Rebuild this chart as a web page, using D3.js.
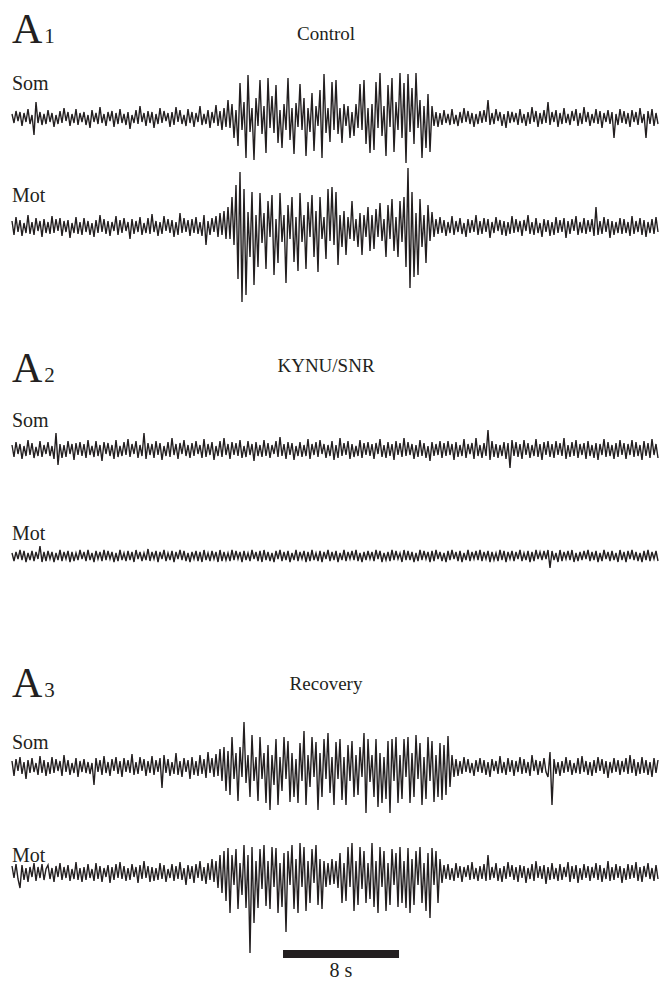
<!DOCTYPE html>
<html>
<head>
<meta charset="utf-8">
<script src="https://cdnjs.cloudflare.com/ajax/libs/d3/7.8.5/d3.min.js"></script>
<style>
  body { margin: 0; background: #fff; }
</style>
</head>
<body>
<div id="chart"></div>
<script>
// recording length (s) and scale bar
var duration = 44.55;
var barStart = 18.69, barLength = 8;

var panelLetters = ["A", "A", "A"];
var panelNumbers = ["1", "2", "3"];
var panelTitles = ["Control", "KYNU/SNR", "Recovery"];
var traceNames = ["Som", "Mot", "Som", "Mot", "Som", "Mot"];

// peak values of each trace (positive = up), 18 per row
var som1 = [4,-5,7,-3,6,-8,5,-4,9,-6,3,-17,16,-5,6,-7,4,-6,
  8,-4,5,-9,3,-6,7,-5,10,-3,6,-8,4,-5,9,-7,5,-4,
  6,-7,3,-10,8,-4,5,-6,11,-5,4,-8,6,-3,7,-9,5,-6,
  9,-5,4,-7,6,-11,3,-5,8,-6,12,-4,5,-8,7,-5,6,-10,
  4,-6,10,-5,7,-3,5,-9,6,-7,11,-4,8,-6,3,-8,9,-5,
  6,-9,5,-4,12,-7,4,-6,8,-10,6,-5,13,-8,7,-12,10,-9,
  18,-10,14,-20,8,-28,35,-12,16,-40,43,-14,10,-42,20,-8,38,-16,
  12,-35,40,-10,22,-15,33,-25,8,-30,14,-12,40,-22,10,-36,15,-9,
  34,-12,20,-38,10,-14,25,-33,12,-8,28,-40,44,-15,10,-24,36,-12,
  38,-16,10,-25,14,-8,12,-20,6,-18,14,-10,34,-12,38,-26,10,-35,
  14,-32,36,-10,45,-18,12,-38,33,-9,40,-34,16,-12,45,-20,35,-45,
  44,-14,30,-26,45,-10,18,-40,12,-30,24,-34,12,-8,6,-9,5,-7,
  8,-5,4,-7,9,-6,3,-8,6,-5,10,-4,7,-6,5,-9,4,-6,
  7,-5,8,-4,18,-7,5,-6,9,-3,6,-8,4,-10,7,-5,6,-4,
  5,-7,9,-5,4,-8,6,-6,11,-4,7,-9,5,-6,8,-5,16,-7,
  6,-4,8,-9,5,-6,10,-5,4,-7,7,-3,9,-8,5,-6,11,-4,
  6,-8,4,-5,9,-6,7,-10,5,-4,8,-6,6,-20,4,-7,9,-5,
  7,-6,5,-9,8,-4,6,-7,10,-5,4,-20,7,-6,9,-8,5,-6];

var mot1 = [6,-8,10,-5,7,-9,4,-6,12,-7,5,-8,9,-4,6,-10,8,-6,
  5,-7,11,-6,8,-4,9,-9,6,-5,7,-11,4,-6,10,-7,5,-8,
  9,-5,6,-8,4,-10,7,-6,12,-5,8,-7,6,-9,5,-4,11,-8,
  7,-6,9,-4,5,-12,8,-7,6,-5,10,-8,4,-6,9,-7,13,-5,
  6,-9,5,-7,11,-4,8,-6,7,-10,5,-8,14,-6,9,-5,7,-9,
  8,-6,10,-7,5,-9,12,-18,6,-8,9,-5,11,-10,14,-8,16,-12,
  20,-12,30,-18,42,-52,55,-75,38,-68,15,-30,35,-58,12,-40,34,-16,
  14,-42,26,-10,32,-48,8,-36,34,-15,12,-56,22,-12,30,-35,10,-44,
  34,-15,12,-42,25,-10,32,-30,16,-45,30,-12,10,-32,38,-14,40,-18,
  35,-38,12,-20,16,-28,10,-12,26,-14,8,-20,14,-28,12,-10,20,-24,
  12,-22,18,-10,24,-14,8,-30,22,-12,28,-24,10,-30,26,-15,30,-40,
  59,-61,35,-50,14,-48,28,-20,12,-36,22,-14,15,-10,8,-7,10,-6,
  7,-9,5,-6,11,-8,6,-5,9,-7,4,-10,8,-6,7,-5,12,-8,
  6,-7,9,-5,8,-11,5,-6,10,-4,7,-8,6,-9,5,-7,11,-6,
  8,-5,6,-9,7,-4,12,-7,5,-8,9,-6,4,-10,8,-5,7,-9,
  5,-8,10,-6,7,-5,9,-11,6,-7,8,-4,11,-8,5,-6,9,-7,
  7,-5,8,-9,20,-8,6,-7,10,-5,8,-11,6,-8,5,-6,9,-7,
  8,-6,5,-9,11,-7,6,-5,9,-8,7,-10,5,-6,8,-7,10,-5];

var som2 = [5,-7,8,-4,6,-9,4,-6,10,-5,7,-8,3,-6,9,-7,5,-4,
  8,-6,4,-9,17,-15,6,-8,5,-7,9,-4,6,-10,7,-5,8,-6,
  6,-8,10,-5,4,-7,9,-6,5,-11,8,-4,7,-6,5,-9,10,-7,
  4,-6,8,-5,11,-7,6,-4,9,-8,5,-6,17,-9,7,-5,6,-8,
  9,-5,7,-10,4,-6,8,-7,12,-5,6,-9,7,-4,10,-6,5,-8,
  7,-6,9,-4,5,-8,11,-7,6,-5,8,-10,4,-6,9,-7,12,-5,
  6,-9,8,-5,7,-6,10,-8,4,-7,9,-5,6,-11,8,-6,5,-7,
  10,-6,7,-8,5,-4,9,-7,13,-6,6,-9,8,-5,7,-10,4,-6,
  8,-7,5,-6,11,-9,6,-5,8,-7,10,-4,6,-8,5,-6,9,-10,
  5,-8,12,-6,7,-5,9,-9,6,-7,4,-6,10,-8,7,-5,8,-6,
  6,-9,7,-4,11,-7,5,-8,8,-6,6,-10,9,-5,7,-7,12,-6,
  8,-5,6,-9,5,-7,10,-6,7,-8,4,-11,8,-6,6,-5,9,-8,
  7,-6,9,-5,6,-10,8,-7,5,-6,11,-8,6,-4,7,-9,12,-6,
  5,-8,7,-6,20,-10,9,-7,6,-8,5,-6,8,-9,7,-18,10,-6,
  8,-7,6,-9,10,-5,7,-8,5,-6,11,-7,6,-10,8,-5,9,-7,
  6,-8,9,-5,7,-6,12,-9,5,-7,8,-6,10,-8,6,-5,7,-9,
  9,-6,5,-8,7,-10,6,-5,11,-7,8,-6,5,-9,7,-7,10,-5,
  7,-9,6,-5,10,-7,8,-6,5,-10,9,-6,7,-8,11,-5,6,-8];

var mot2 = [3,-5,4,-3,6,-4,5,-6,3,-4,5,-5,4,-3,10,-6,4,-5,
  5,-3,4,-6,3,-4,6,-5,4,-3,5,-6,4,-5,3,-4,6,-3,
  4,-5,6,-4,3,-6,5,-3,4,-5,6,-4,5,-3,4,-6,3,-5,
  6,-4,3,-5,5,-4,4,-6,6,-3,4,-5,3,-4,7,-5,4,-3,
  5,-6,4,-3,6,-5,3,-4,5,-6,4,-3,6,-4,5,-5,3,-6,
  4,-3,5,-5,4,-6,6,-4,3,-5,5,-3,4,-6,6,-5,4,-4,
  3,-5,6,-4,5,-3,4,-6,5,-4,3,-5,6,-3,4,-5,5,-6,
  6,-4,4,-5,3,-6,5,-3,6,-5,4,-4,5,-6,3,-4,6,-5,
  4,-3,5,-6,4,-5,6,-4,3,-5,5,-6,4,-3,6,-5,4,-4,
  5,-6,3,-4,6,-5,4,-3,5,-4,6,-5,3,-6,4,-4,5,-3,
  4,-5,6,-3,5,-6,3,-4,4,-5,6,-4,5,-3,3,-6,6,-4,
  5,-4,4,-6,3,-5,6,-4,5,-3,4,-6,5,-5,6,-3,4,-5,
  3,-6,5,-4,6,-3,4,-5,5,-6,3,-4,6,-5,4,-3,5,-4,
  6,-5,4,-3,5,-6,4,-4,3,-5,6,-4,5,-6,4,-3,5,-5,
  4,-3,6,-5,3,-4,5,-6,4,-5,6,-3,4,-4,5,-3,6,-12,
  5,-4,3,-6,6,-5,4,-3,5,-4,6,-6,3,-5,4,-4,5,-3,
  6,-5,4,-4,5,-6,3,-5,6,-3,4,-5,5,-4,3,-6,6,-4,
  4,-6,5,-3,6,-4,4,-5,3,-6,5,-4,6,-5,4,-3,5,-5];

var som3 = [6,-9,8,-4,10,-7,5,-12,7,-6,9,-5,4,-8,11,-6,7,-9,
  5,-7,10,-6,8,-4,6,-9,12,-5,7,-8,4,-6,9,-10,6,-5,
  8,-6,5,-7,4,-18,9,-5,7,-8,11,-6,5,-9,8,-4,10,-7,
  6,-10,9,-5,7,-6,13,-8,5,-7,10,-4,8,-9,6,-6,11,-8,
  7,-5,9,-21,12,-6,8,-9,5,-7,14,-8,6,-10,9,-5,7,-12,
  10,-8,6,-9,12,-7,8,-11,15,-6,9,-10,13,-9,18,-14,20,-24,
  16,-28,30,-12,14,-34,20,-10,45,-16,12,-30,32,-14,10,-34,30,-12,
  14,-36,22,-43,12,-18,28,-38,10,-24,30,-12,26,-35,14,-30,8,-36,
  24,-14,36,-38,12,-20,30,-10,25,-43,14,-30,28,-12,34,-26,10,-38,
  25,-12,28,-33,10,-38,22,-14,26,-30,12,-28,20,-10,34,-46,28,-15,
  12,-30,28,-40,14,-36,10,-32,26,-46,28,-14,30,-36,12,-32,28,-10,
  30,-36,14,-30,32,-12,24,-38,10,-32,30,-14,26,-35,12,-30,24,-33,
  22,-28,31,-20,12,-10,8,-9,6,-7,10,-5,8,-6,4,-9,7,-5,
  9,-6,7,-8,5,-10,8,-4,6,-7,11,-6,5,-8,9,-5,7,-9,
  6,-5,10,-7,8,-6,5,-9,12,-4,7,-8,6,-6,9,-5,-10,15,
  -38,8,-7,5,-9,6,-6,10,-5,7,-8,4,-6,9,-7,11,-5,6,
  -8,5,-9,7,-6,10,-4,8,-7,6,-11,5,-6,9,-5,7,-8,6,
  -5,9,-7,12,-6,8,-9,5,-7,10,-6,7,-8,5,-10,9,-6,7];

var mot3 = [7,-5,9,-6,-15,8,-7,5,-9,6,-4,10,-8,6,-5,9,-7,4,
  8,-6,5,-9,7,-4,10,-7,6,-5,8,-8,4,-6,11,-7,5,-9,
  6,-7,9,-5,4,-8,10,-6,7,-9,5,-4,8,-10,6,-7,9,-5,
  11,-6,7,-8,5,-7,9,-4,6,-10,8,-6,12,-5,7,-9,6,-8,
  5,-7,10,-6,8,-9,4,-5,9,-8,7,-6,11,-7,5,-12,8,-6,
  7,-10,9,-5,12,-8,6,-11,10,-7,14,-9,12,-15,18,-20,22,-28,
  25,-40,18,-12,24,-36,10,-22,28,-35,18,-80,26,-50,12,-35,24,-16,
  28,-33,12,-36,26,-14,25,-40,10,-34,20,-59,22,-12,28,-36,14,-40,
  30,-14,26,-38,12,-30,24,-10,28,-32,14,-36,12,-14,10,-12,14,-11,
  12,-15,20,-30,10,-28,26,-14,30,-38,12,-32,26,-16,22,-30,10,-26,
  30,-34,12,-40,26,-14,22,-38,10,-32,24,-12,20,-34,26,-30,12,-35,
  25,-40,14,-32,22,-12,26,-30,10,-38,20,-45,25,-12,22,-30,14,-10,
  8,-6,9,-7,5,-8,10,-5,7,-9,6,-4,8,-7,11,-6,5,-8,
  7,-6,9,-8,18,-7,6,-5,10,-8,5,-9,7,-6,11,-4,8,-7,
  6,-9,8,-5,7,-10,5,-6,9,-8,12,-5,7,-6,8,-11,6,-7,
  10,-6,5,-8,9,-7,6,-4,11,-9,7,-6,8,-10,5,-7,9,-5,
  7,-8,6,-5,10,-7,8,-9,5,-6,12,-8,6,-7,9,-5,7,-10,
  5,-7,9,-6,8,-5,11,-8,6,-9,7,-4,10,-6,5,-8,8,-6];

var traces = [som1, mot1, som2, mot2, som3, mot3];

// layout
var width = 660, height = 982;
var serif = "'Liberation Serif', 'Times New Roman', Times, 'DejaVu Serif', serif";
var ink = "#231f20";
var traceBase = [118, 227, 450, 556, 767, 873];
var nameY = [90, 202, 427, 540, 749, 862];
var panelY = [43, 382, 697];
var titleY = [40, 372, 690];

var svg = d3.select("#chart")
    .append("svg")
    .attr("width", width)
    .attr("height", height)
    .style("display", "block");

svg.append("rect").attr("width", width).attr("height", height).attr("fill", "#fff");

var x = d3.scaleLinear()
    .domain([0, duration])
    .range([12, 658]);

// panel headings
panelTitles.forEach(function (t, p) {
    var lab = svg.append("text")
        .attr("x", 12)
        .attr("y", panelY[p])
        .attr("font-family", serif)
        .attr("fill", ink)
        .attr("font-size", 42);
    lab.append("tspan").text(panelLetters[p]);
    lab.append("tspan").attr("dx", 2).attr("font-size", 21).text(panelNumbers[p]);

    svg.append("text")
        .attr("x", 326)
        .attr("y", titleY[p])
        .attr("text-anchor", "middle")
        .attr("font-family", serif)
        .attr("fill", ink)
        .attr("font-size", 19)
        .text(t);
});

// traces
traces.forEach(function (data, k) {
    var dt = duration / (data.length - 1);
    var y = d3.scaleLinear()
        .domain([-100, 100])
        .range([traceBase[k] + 100, traceBase[k] - 100]);

    svg.append("text")
        .attr("x", 12)
        .attr("y", nameY[k])
        .attr("font-family", serif)
        .attr("fill", ink)
        .attr("font-size", 20)
        .text(traceNames[k]);

    svg.append("path")
        .datum(data)
        .attr("fill", "none")
        .attr("stroke", ink)
        .attr("stroke-width", 1.4)
        .attr("d", d3.line()
            .x(function (d, i) { return x(i * dt); })
            .y(function (d) { return y(d); }));
});

// 8 s scale bar
svg.append("rect")
    .attr("x", x(barStart))
    .attr("y", 950)
    .attr("width", x(barStart + barLength) - x(barStart))
    .attr("height", 8)
    .attr("fill", ink);

svg.append("text")
    .attr("x", (x(barStart) + x(barStart + barLength)) / 2)
    .attr("y", 977)
    .attr("text-anchor", "middle")
    .attr("font-family", serif)
    .attr("fill", ink)
    .attr("font-size", 20)
    .text(barLength + " s");
</script>
</body>
</html>
